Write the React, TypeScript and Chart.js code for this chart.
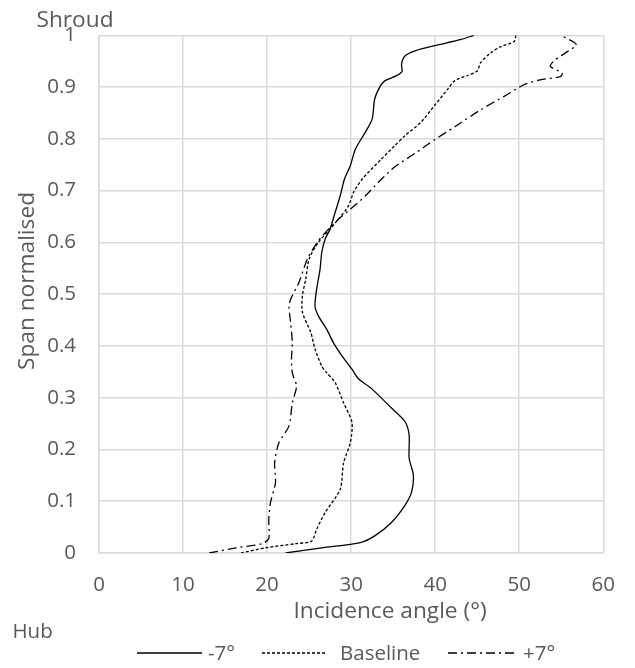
import { useEffect, useRef } from 'react';
import { Chart, registerables } from 'chart.js';

Chart.register(...registerables);

const xTickValues = [0, 10, 20, 30, 40, 50, 60];
const yTickValues = [0, 0.1, 0.2, 0.3, 0.4, 0.5, 0.6, 0.7, 0.8, 0.9, 1];

const seriesNames = ['-7°', 'Baseline', '+7°'];

const minus7Angle = [22.2, 26.5, 31.1, 32.8, 34.8, 36.4, 37.2, 37.4, 36.9, 36.9, 36.4, 34.8, 32.4, 30.9, 30.1, 28.9, 27.9, 27.1, 26.1, 25.7, 25.9, 26.3, 26.5, 26.9, 27.5, 28.1, 28.7, 29.2, 29.9, 30.5, 31.7, 32.5, 32.8, 33.4, 34.0, 35.4, 36.05, 36.0, 36.4, 37.6, 39.9, 43.1, 44.6];
const minus7Span = [0, 0.01, 0.02, 0.033, 0.059, 0.092, 0.118, 0.151, 0.183, 0.228, 0.254, 0.28, 0.318, 0.336, 0.355, 0.381, 0.406, 0.432, 0.458, 0.477, 0.51, 0.548, 0.58, 0.606, 0.626, 0.658, 0.69, 0.722, 0.748, 0.78, 0.813, 0.838, 0.877, 0.9, 0.912, 0.922, 0.93, 0.945, 0.96, 0.97, 0.98, 0.992, 1.0];

const baselineAngle = [16.9, 19.8, 23.4, 25.3, 25.9, 26.9, 28.7, 29.1, 29.9, 30.1, 29.1, 28.1, 27.0, 26.5, 25.7, 25.2, 24.2, 24.2, 24.6, 25.0, 26.1, 27.5, 28.5, 29.7, 30.3, 31.3, 33.6, 35.2, 36.4, 38.3, 39.9, 41.5, 42.3, 43.8, 45.0, 45.4, 46.6, 47.8, 49.4, 49.6];
const baselineSpan = [0, 0.01, 0.018, 0.023, 0.046, 0.078, 0.123, 0.174, 0.213, 0.252, 0.29, 0.329, 0.35, 0.361, 0.394, 0.426, 0.465, 0.497, 0.529, 0.568, 0.6, 0.626, 0.645, 0.671, 0.697, 0.722, 0.761, 0.787, 0.806, 0.832, 0.864, 0.896, 0.912, 0.922, 0.931, 0.947, 0.966, 0.978, 0.988, 1.0];

const plus7Angle = [13.1, 16.3, 19.4, 20.2, 20.2, 20.4, 21.0, 20.9, 21.4, 22.6, 23.0, 23.5, 23.0, 22.9, 23.0, 22.8, 22.6, 22.8, 23.8, 24.8, 26.1, 27.5, 28.5, 29.9, 31.7, 33.6, 35.2, 37.6, 39.9, 42.3, 45.4, 48.2, 50.5, 52.5, 54.9, 55.1, 53.7, 54.3, 55.5, 56.8, 55.1];
const plus7Span = [0, 0.01, 0.018, 0.028, 0.064, 0.097, 0.136, 0.174, 0.213, 0.245, 0.29, 0.322, 0.348, 0.374, 0.406, 0.445, 0.477, 0.49, 0.523, 0.568, 0.603, 0.629, 0.645, 0.664, 0.69, 0.722, 0.746, 0.772, 0.798, 0.823, 0.856, 0.882, 0.904, 0.914, 0.92, 0.927, 0.94, 0.953, 0.966, 0.982, 0.999];

const FONT = '"Open Sans", "Liberation Sans", sans-serif';
const TEXT = '#595959';
const GRID = '#d9d9d9';
const TITLE_SIZE = 22.7;
const SMALL_SIZE = 20.5;
const dashes = [[], [3, 2], [9, 4, 2, 4]];

const toPoints = (xs: number[], ys: number[]) => xs.map((x, i) => ({ x, y: ys[i] }));

const textPlugin = {
  id: 'extraText',
  afterDraw(chart: any) {
    const ctx = chart.ctx;
    ctx.save();
    ctx.fillStyle = TEXT;
    ctx.textBaseline = 'alphabetic';
    ctx.font = `${TITLE_SIZE}px ${FONT}`;
    ctx.textAlign = 'center';
    ctx.fillText('Shroud', 75, 26.5);
    ctx.fillText('Incidence angle (°)', 390, 618);
    ctx.save();
    ctx.translate(34, 281);
    ctx.rotate(-Math.PI / 2);
    ctx.fillText('Span normalised', 0, 0);
    ctx.restore();
    ctx.font = `${SMALL_SIZE}px ${FONT}`;
    ctx.textAlign = 'left';
    ctx.fillText('Hub', 12.5, 638);
    const items = [
      { x0: 137, x1: 202, tx: 208 },
      { x0: 262, x1: 325, tx: 340 },
      { x0: 448, x1: 518, tx: 523 },
    ];
    const ly = 653;
    items.forEach((it, i) => {
      ctx.strokeStyle = '#000';
      ctx.lineWidth = 1.3;
      ctx.setLineDash(dashes[i]);
      ctx.beginPath();
      ctx.moveTo(it.x0, ly);
      ctx.lineTo(it.x1, ly);
      ctx.stroke();
      ctx.setLineDash([]);
      ctx.fillText(seriesNames[i], it.tx, 660);
    });
    ctx.restore();
  },
};

export default function App() {
  const ref = useRef<HTMLCanvasElement>(null);
  useEffect(() => {
    if (!ref.current) return;
    const allX = [minus7Angle, baselineAngle, plus7Angle];
    const allY = [minus7Span, baselineSpan, plus7Span];
    const chart = new Chart(ref.current, {
      type: 'scatter',
      data: {
        datasets: seriesNames.map((name, i) => ({
          label: name,
          data: toPoints(allX[i], allY[i]),
          showLine: true,
          borderColor: '#000',
          borderWidth: 1.3,
          borderDash: dashes[i],
          pointRadius: 0,
          tension: 0.25,
          fill: false,
        })),
      },
      options: {
        responsive: false,
        animation: false,
        devicePixelRatio: 1,
        layout: { padding: { top: 35, right: 28, left: 0, bottom: 0 } },
        plugins: { legend: { display: false }, tooltip: { enabled: false }, title: { display: false } },
        scales: {
          x: {
            type: 'linear',
            min: xTickValues[0],
            max: xTickValues[xTickValues.length - 1],
            afterBuildTicks: (s: any) => { s.ticks = xTickValues.map((v) => ({ value: v })); },
            afterFit: (s: any) => { s.height = 115; },
            grid: { color: GRID, lineWidth: 1.5, drawTicks: false },
            border: { color: GRID, width: 1.5 },
            ticks: { color: TEXT, font: { family: FONT, size: SMALL_SIZE }, padding: 20, maxRotation: 0 },
          },
          y: {
            type: 'linear',
            min: yTickValues[0],
            max: yTickValues[yTickValues.length - 1],
            afterBuildTicks: (s: any) => { s.ticks = yTickValues.map((v) => ({ value: v })); },
            afterFit: (s: any) => { s.width = 99; },
            grid: { color: GRID, lineWidth: 1.5, drawTicks: false },
            border: { color: GRID, width: 1.5 },
            ticks: {
              color: TEXT,
              font: { family: FONT, size: SMALL_SIZE },
              padding: 23,
              callback: (v: any) => String(Number(Number(v).toFixed(1))),
            },
          },
        },
      },
      plugins: [textPlugin],
    });
    return () => chart.destroy();
  }, []);
  return (
    <div style={{ position: 'fixed', left: 0, top: 0, width: 635, height: 668, background: '#fff' }}>
      <canvas ref={ref} width={635} height={668} style={{ width: 635, height: 668, display: 'block' }} />
    </div>
  );
}
